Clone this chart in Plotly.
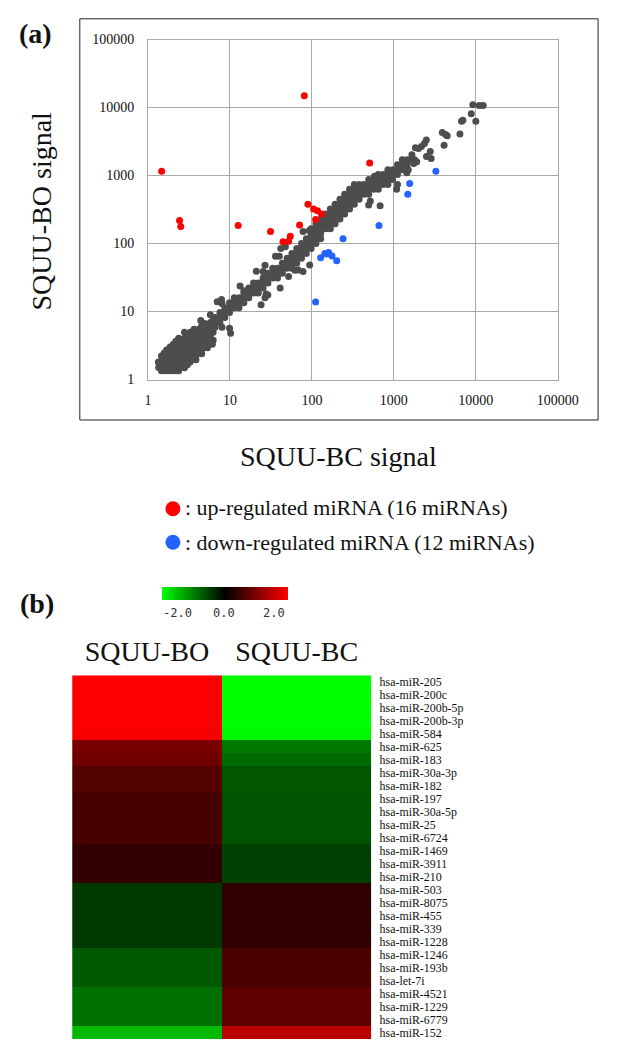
import plotly.graph_objects as go

# ---------------- data: panel (a) scatter (signal values) ----------------
blob_bc = [1.35, 1.34, 1.46, 1.47, 1.45, 1.46, 1.71, 1.70, 1.72, 1.71, 1.69,
           2.02, 2.00, 2.03, 2.02, 2.01, 2.04, 2.37, 2.35, 2.38, 2.37, 2.36, 2.39, 2.37,
           2.79, 2.80, 2.77, 2.79, 2.81, 2.78, 3.27, 3.25, 3.28, 3.27, 3.26, 3.29,
           3.85, 3.83, 3.86, 3.85, 3.87, 3.84, 4.52, 4.50, 4.53, 4.52, 4.55, 4.50,
           5.32, 5.30, 5.34, 5.31, 5.33, 6.25, 6.23, 6.27, 6.25,
           1.58, 1.58, 1.58, 1.58, 1.86, 1.86, 1.86, 1.86, 1.86,
           2.19, 2.19, 2.19, 2.19, 2.19, 2.19, 2.57, 2.57, 2.57, 2.57, 2.57,
           3.02, 3.02, 3.02, 3.02, 3.02, 3.02, 3.55, 3.55, 3.55, 3.55, 3.55,
           4.17, 4.17, 4.17, 4.17, 4.17, 4.91, 4.91, 4.91, 4.91, 4.91, 5.77, 5.77, 5.77]
blob_bo = [1.50, 1.82, 1.35, 1.49, 1.82, 2.23, 1.35, 1.49, 1.82, 2.23, 2.72,
           1.35, 1.49, 1.82, 2.23, 2.72, 3.32, 1.35, 1.49, 1.82, 2.23, 2.72, 3.32, 4.06,
           1.49, 1.82, 2.23, 2.72, 3.32, 4.06, 1.82, 2.23, 2.72, 3.32, 4.06, 4.96,
           1.95, 2.23, 2.72, 3.32, 4.06, 4.96, 2.40, 2.72, 3.32, 4.06, 4.96, 6.06,
           2.95, 3.32, 4.06, 4.96, 6.06, 3.80, 4.96, 6.06, 7.41,
           1.35, 1.65, 2.02, 2.46, 1.35, 1.65, 2.02, 2.46, 3.01,
           1.35, 1.65, 2.02, 2.46, 3.01, 3.67, 1.65, 2.02, 2.46, 3.01, 3.67,
           1.65, 2.02, 2.46, 3.01, 3.67, 4.49, 2.02, 2.46, 3.01, 3.67, 4.49,
           2.46, 3.01, 3.67, 4.49, 5.48, 3.01, 3.67, 4.49, 5.48, 6.70, 3.67, 4.49, 5.48]

band_bc = [5.77, 5.77, 5.77, 6.6, 6.6, 6.6, 7.55, 7.55, 7.55, 8.65, 8.65, 8.65,
           9.9, 9.9, 9.9, 11.3, 11.3, 11.3, 12.9, 12.9, 12.9, 14.8, 14.8, 14.8,
           17.0, 17.0, 17.0, 19.4, 19.4, 19.4, 22.2, 22.2, 22.2, 25.4, 25.4, 25.4,
           29.1, 29.1, 29.1, 33.3, 33.3, 33.3, 38.1, 38.1, 38.1, 43.6, 43.6, 43.6,
           49.9, 49.9, 49.9, 57.1, 57.1, 57.1, 57.1, 65.3, 65.3, 65.3, 65.3,
           74.7, 74.7, 74.7, 74.7, 85.5, 85.5, 85.5, 85.5,
           97.9, 97.9, 97.9, 97.9, 97.9, 112, 112, 112, 112, 112,
           128, 128, 128, 128, 128, 147, 147, 147, 147,
           168, 168, 168, 168, 168, 192, 192, 192, 192, 192,
           220, 220, 220, 220, 220, 251, 251, 251, 251, 251,
           288, 288, 288, 288, 288, 329, 329, 329, 329, 329,
           377, 377, 377, 377, 431, 431, 431, 494, 494, 494, 494,
           565, 565, 565, 646, 646, 646, 646, 739, 739, 739,
           846, 846, 846, 846, 968, 968, 968, 1108, 1108, 1108,
           1268, 1268, 1268, 1451, 1451, 1660, 1660]
band_bo = [6.93, 5.86, 4.96, 8.19, 6.93, 5.86, 9.68, 8.19, 6.93, 11.4, 9.68, 8.19,
           13.5, 11.4, 9.68, 16.0, 13.5, 11.4, 16.0, 13.5, 11.4, 18.8, 16.0, 13.5,
           22.3, 18.8, 16.0, 26.3, 22.3, 18.8, 26.3, 22.3, 18.8, 31.1, 26.3, 22.3,
           36.7, 31.1, 26.3, 43.4, 36.7, 31.1, 43.4, 36.7, 31.1, 51.3, 43.4, 36.7,
           60.6, 51.3, 43.4, 71.6, 60.6, 51.3, 43.4, 84.7, 71.6, 60.6, 51.3,
           100, 84.7, 71.6, 60.6, 118, 100, 84.7, 71.6,
           165, 140, 118, 100, 84.7, 195, 165, 140, 118, 100,
           230, 195, 165, 140, 118, 272, 230, 195, 165,
           321, 272, 230, 195, 165, 380, 321, 272, 230, 195,
           449, 380, 321, 272, 230, 531, 449, 380, 321, 272,
           627, 531, 449, 380, 321, 741, 627, 531, 449, 380,
           741, 627, 531, 449, 741, 627, 531, 875, 741, 627, 531,
           875, 741, 627, 1034, 875, 741, 627, 1034, 875, 741,
           1222, 1034, 875, 741, 1222, 1034, 875, 1443, 1222, 1034,
           1706, 1443, 1222, 1706, 1443, 2015, 1706]

scatter_bc = [2.79, 3.65, 4.41, 5.77, 7.0, 8.0, 7.9, 10.2, 9.9, 6.1, 8.0,
              13.3, 14.8, 26.8, 29.0, 24.0, 21.0, 26.8, 25.4, 36.0, 40.0, 41.7, 47.5,
              62.0, 52.0, 78.0, 93.0, 41.0, 27.6, 68.0, 78.0, 94.0,
              580, 493, 517, 680, 1080, 1108, 1790, 2780, 2500, 2850, 4100,
              3900, 4480, 4270, 6400, 6700, 6950, 8800, 10000, 9200, 11000, 12300,
              2490, 2360, 2170, 2000, 1830, 1900, 1750, 1500, 1440]
scatter_bo = [4.96, 5.5, 7.41, 9.0, 14.0, 13.1, 15.1, 4.8, 5.7, 3.3, 5.9,
              23.8, 20.2, 16.0, 17.6, 12.6, 39.3, 48.0, 39.0, 65.0, 65.0, 84.7, 89.4,
              40.6, 32.8, 150, 155, 22.3, 18.2, 41.0, 39.0, 48.5,
              980, 370, 424, 360, 627, 741, 1706, 2250, 1900, 1780, 2800,
              4300, 3840, 4000, 4100, 6300, 6480, 8100, 6270, 11000, 10700, 10700,
              3324, 2960, 2680, 2500, 2560, 1600, 1500, 1220, 1100]

up_bc = [1.47, 2.43, 2.51, 12.6, 31.3, 44.4, 52.0, 54.5, 70.8, 80.8,
         89.5, 105, 117, 131, 111, 507]
up_bo = [1155, 218, 178, 184, 151, 106, 108, 128, 188, 14900,
         380, 321, 304, 272, 225, 1528]

down_bc = [3257, 1560, 1479, 658, 240, 128, 144, 160, 176, 201, 150, 111]
down_bo = [1155, 766, 531, 184, 118, 62, 71.6, 74, 65.5, 56, 70, 13.8]

axis_ticks = [1, 10, 100, 1000, 10000, 100000]
axis_tick_text = ["1", "10", "100", "1000", "10000", "100000"]

# ---------------- data: panel (b) heatmap ----------------
mirnas = ["hsa-miR-205", "hsa-miR-200c", "hsa-miR-200b-5p", "hsa-miR-200b-3p",
          "hsa-miR-584", "hsa-miR-625", "hsa-miR-183", "hsa-miR-30a-3p",
          "hsa-miR-182", "hsa-miR-197", "hsa-miR-30a-5p", "hsa-miR-25",
          "hsa-miR-6724", "hsa-miR-1469", "hsa-miR-3911", "hsa-miR-210",
          "hsa-miR-503", "hsa-miR-8075", "hsa-miR-455", "hsa-miR-339",
          "hsa-miR-1228", "hsa-miR-1246", "hsa-miR-193b", "hsa-let-7i",
          "hsa-miR-4521", "hsa-miR-1229", "hsa-miR-6779", "hsa-miR-152"]
samples = ["SQUU-BO", "SQUU-BC"]
bo_z = [2.0, 2.0, 2.0, 2.0, 1.95, 0.95, 0.88, 0.64, 0.64, 0.56, 0.56, 0.56, 0.56,
        0.39, 0.39, 0.39, -0.45, -0.45, -0.45, -0.45, -0.45, -0.70, -0.70, -0.70,
        -0.88, -0.88, -0.88, -1.45]
bc_z = [-2.0, -2.0, -2.0, -2.0, -1.95, -0.95, -0.84, -0.68, -0.68, -0.66, -0.66, -0.66,
        -0.66, -0.50, -0.50, -0.50, 0.38, 0.38, 0.38, 0.38, 0.38, 0.58, 0.58, 0.58,
        0.74, 0.74, 0.74, 1.47]
cbar_labels = ["-2.0", "0.0", "2.0"]

# ---------------- layout helpers ----------------
W, H = 621, 1047


def px(x):
    return x / W


def py(y):
    return 1 - y / H


SERIF = "Liberation Serif"
GRAY = "#4d4d4d"
RED = "#ff0000"
BLUE = "#2463ff"

fig = go.Figure()

fig.add_trace(go.Scatter(x=blob_bc + band_bc + scatter_bc, y=blob_bo + band_bo + scatter_bo,
                         mode="markers", marker=dict(size=7, color=GRAY),
                         xaxis="x", yaxis="y", showlegend=False, hoverinfo="skip"))
fig.add_trace(go.Scatter(x=up_bc, y=up_bo, mode="markers",
                         marker=dict(size=7, color=RED), name="up-regulated miRNA",
                         xaxis="x", yaxis="y", showlegend=False))
fig.add_trace(go.Scatter(x=down_bc, y=down_bo, mode="markers",
                         marker=dict(size=7, color=BLUE), name="down-regulated miRNA",
                         xaxis="x", yaxis="y", showlegend=False))

z = [[bo_z[i], bc_z[i]] for i in range(len(mirnas))]
fig.add_trace(go.Heatmap(
    z=z, x=samples, y=mirnas, xaxis="x2", yaxis="y2",
    colorscale=[[0, "#00ff00"], [0.5, "#000000"], [1, "#ff0000"]],
    zmin=-2, zmax=2,
    colorbar=dict(orientation="h", x=px(230), xanchor="center", y=py(588), yanchor="top",
                  len=126, lenmode="pixels", thickness=13, outlinewidth=0,
                  showticklabels=False, ticks="", xpad=0, ypad=0),
))

common_ax = dict(type="log", range=[0, 5], showgrid=True, gridcolor="#a8a8a8", gridwidth=1,
                 showline=True, mirror=True, linecolor="#a8a8a8", linewidth=1,
                 zeroline=False, ticks="", tickmode="array", tickvals=axis_ticks,
                 ticktext=axis_tick_text,
                 tickfont=dict(family=SERIF, size=14, color="#111"))

fig.update_layout(
    width=W, height=H, margin=dict(l=0, r=0, t=0, b=0),
    paper_bgcolor="white", plot_bgcolor="white",
    xaxis=dict(domain=[px(150), px(577)], anchor="y", ticklabelstandoff=8, **common_ax),
    yaxis=dict(domain=[py(378), py(33)], anchor="x", ticklabelstandoff=10, **common_ax),
    xaxis2=dict(domain=[px(71), px(383)], anchor="y2", side="top", showgrid=False,
                zeroline=False, showline=False, ticks="", ticklabelstandoff=8,
                tickfont=dict(family=SERIF, size=28, color="#111")),
    yaxis2=dict(domain=[0, py(678)], anchor="x2", side="right", autorange="reversed",
                showgrid=False, zeroline=False, showline=False, ticks="",
                tickmode="array", tickvals=mirnas, ticktext=mirnas,
                ticklabelstandoff=7, tickfont=dict(family=SERIF, size=11.9, color="#111")),
    font=dict(family=SERIF, color="#111"),
)

shapes = [
    dict(type="rect", xref="paper", yref="paper", x0=px(79), x1=px(619), y0=py(419), y1=py(12),
         line=dict(color="#222", width=1)),
]
for yy, col in [(509, RED), (543, BLUE)]:
    shapes.append(dict(type="circle", xref="paper", yref="paper", xsizemode="pixel",
                       ysizemode="pixel", xanchor=px(176), yanchor=py(yy),
                       x0=-7.5, x1=7.5, y0=-7.5, y1=7.5, fillcolor=col, line=dict(width=0)))
fig.update_layout(shapes=shapes)

ann = [
    dict(text="<b>(a)</b>", x=px(33), y=py(27), font=dict(size=28)),
    dict(text="<b>(b)</b>", x=px(34), y=py(605), font=dict(size=28)),
    dict(text="SQUU-BO signal", x=px(39), y=py(207), textangle=-90, font=dict(size=28)),
    dict(text="SQUU-BC signal", x=px(349), y=py(456), font=dict(size=28)),
    dict(text=": up-regulated miRNA (16 miRNAs)", x=px(186), y=py(508), xanchor="left",
         font=dict(size=22)),
    dict(text=": down-regulated miRNA (12 miRNAs)", x=px(186), y=py(543), xanchor="left",
         font=dict(size=22)),
]
for lab, xx in zip(cbar_labels, [181, 229, 281]):
    ann.append(dict(text=lab, x=px(xx), y=py(615),
                    font=dict(family="DejaVu Sans Mono", size=12, color="#333")))
for a in ann:
    a.setdefault("xref", "paper")
    a.setdefault("yref", "paper")
    a.setdefault("showarrow", False)
    a.setdefault("xanchor", "center")
    a.setdefault("yanchor", "middle")
fig.update_layout(annotations=ann)

fig.write_html("out.html", config={"displayModeBar": False},
               post_script="document.body.style.margin='0';document.body.style.padding='0';"
                           "document.body.style.overflow='hidden';")
